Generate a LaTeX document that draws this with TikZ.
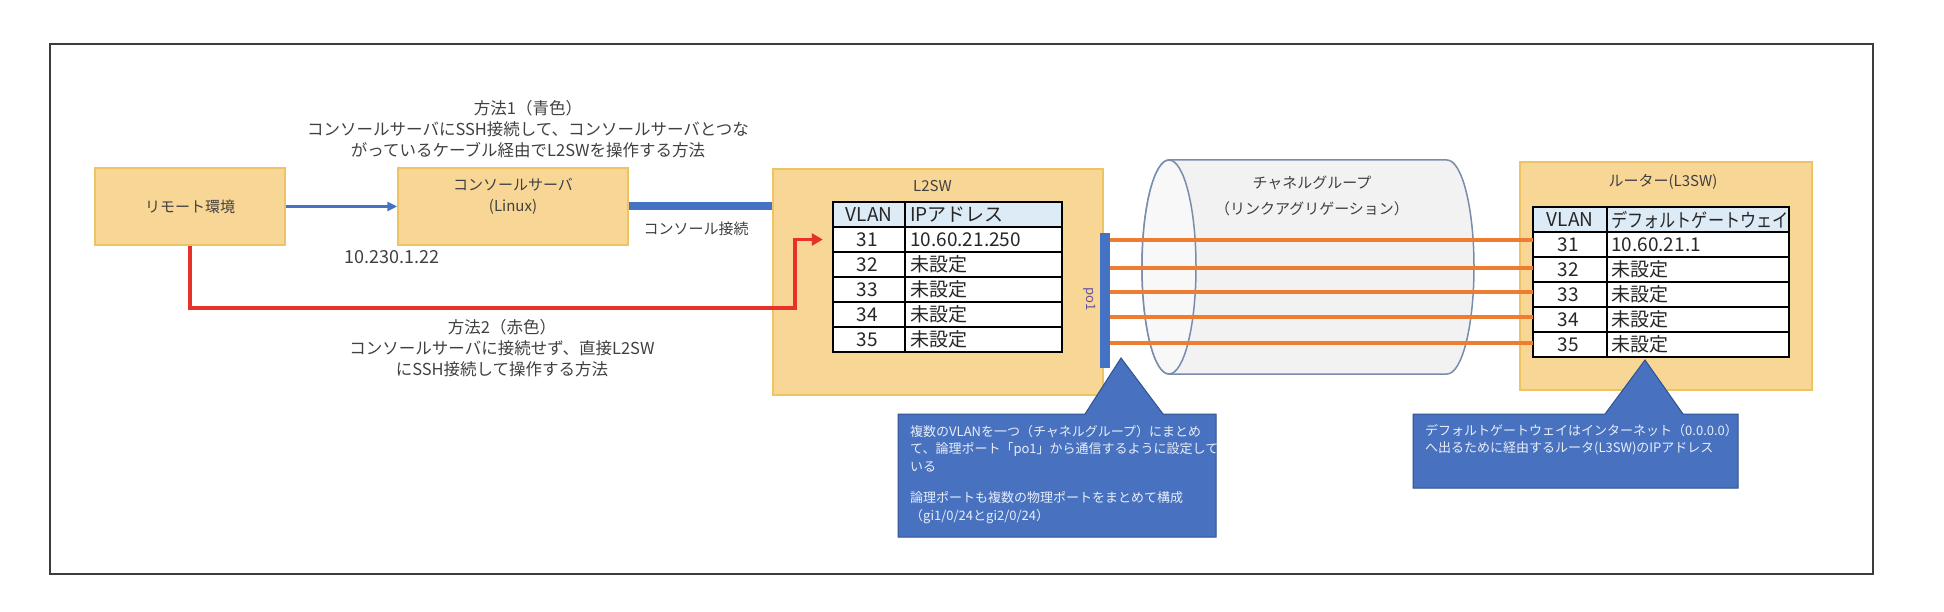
\documentclass[tikz,border=0pt]{standalone}
\usepackage{fontspec}
\setmainfont{Noto Sans CJK JP}
\usetikzlibrary{positioning, arrows.meta}

\definecolor{boxfill}{RGB}{248,215,150}
\definecolor{boxline}{RGB}{238,195,100}
\definecolor{linkblue}{RGB}{68,114,196}
\definecolor{callfill}{RGB}{72,114,192}
\definecolor{callline}{RGB}{47,82,143}
\definecolor{callwhite}{RGB}{232,238,248}
\definecolor{lagorange}{RGB}{237,125,49}
\definecolor{sshred}{RGB}{230,50,40}
\definecolor{cylfill}{RGB}{242,242,242}
\definecolor{cylface}{RGB}{248,248,248}
\definecolor{cylline}{RGB}{120,140,172}
\definecolor{headfill}{RGB}{221,235,247}
\definecolor{notegray}{RGB}{64,64,64}
\definecolor{framegray}{RGB}{60,60,60}
\definecolor{portlbl}{RGB}{100,80,160}

\tikzset{
  devbox/.style={draw=boxline, fill=boxfill, line width=1.5, inner sep=0},
  boxlabel/.style={text=notegray, align=center, inner sep=0, font=\fontsize{15}{21}\selectfont},
  note/.style={text=notegray, align=center, inner sep=0, font=\fontsize{16.5}{21}\selectfont},
  tabtext/.style={text=black!85, inner sep=0, font=\fontsize{19}{19}\selectfont},
  tabline/.style={draw=black, line width=1.6},
  calloutbox/.style={fill=callfill, draw=callline, line width=1},
  calltext/.style={text=callwhite, align=left, inner sep=0, anchor=north west, font=\fontsize{13}{17.5}\selectfont},
  lagline/.style={draw=lagorange, line width=3.5},
  sshpath/.style={draw=sshred, line width=3.5, -{Triangle[length=11, width=12]}},
  consolearrow/.style={draw=linkblue, line width=2.5, -{Triangle[length=10, width=9]}},
  consolelink/.style={draw=linkblue, line width=8}
}

\begin{document}
\begin{tikzpicture}[x=1pt, y=-1pt]
	\useasboundingbox (0,0) rectangle (1944,612);
	\draw[framegray, line width=1.5] (50,44) rectangle (1873,574);

	\node[devbox, minimum width=190, minimum height=77, font=\fontsize{15}{21}\selectfont, text=notegray] (remote) at (190,206.5) {リモート環境};
	\node[devbox, minimum width=230, minimum height=77] (console) at (513,206.5) {};
	\node[boxlabel] (consolelbl) at (513,196) {コンソールサーバ\\(Linux)};
	\node[devbox, minimum width=330, minimum height=226] (l2sw) at (938,282) {};
	\node[boxlabel, anchor=west] (l2swlbl) at (913,186) {L2SW};
	\node[devbox, minimum width=292, minimum height=228] (router) at (1666,276) {};
	\node[boxlabel] (routerlbl) at (1663,182) {ルーター(L3SW)};

	% L2SW table
	\node[inner sep=0, minimum width=229, minimum height=150, fill=white] (l2tab) at (947.5,277) {};
	\fill[headfill] (833,202) rectangle (1062,227);
	\foreach \y in {227,252,...,327}
		\draw[tabline] (833,\y) -- (1062,\y);
	\draw[tabline] (905,202) -- (905,352);
	\draw[tabline] (l2tab.north west) rectangle (l2tab.south east);
	\node[tabtext] (l2vhead) at (869,214.5) {VLAN};
	\node[tabtext, anchor=west] (l2iphead) at (910,214.5) {IPアドレス};
	\foreach \v/\ip [count=\i] in {31/10.60.21.250,32/未設定,33/未設定,34/未設定,35/未設定} {
		\node[tabtext] (l2v\v) at (867,214.5+25*\i) {\v};
		\node[tabtext, anchor=west] (l2ip\v) at (910,214.5+25*\i) {\ip};
	};

	% router table
	\node[inner sep=0, minimum width=256, minimum height=150, fill=white] (r3tab) at (1661,282) {};
	\fill[headfill] (1533,207) rectangle (1789,232);
	\foreach \y in {232,257,...,332}
		\draw[tabline] (1533,\y) -- (1789,\y);
	\draw[tabline] (1607,207) -- (1607,357);
	\draw[tabline] (r3tab.north west) rectangle (r3tab.south east);
	\node[tabtext] (r3vhead) at (1570,219.5) {VLAN};
	\node[tabtext, anchor=west] (r3gwhead) at (1611,219.5) {\scalebox{0.85}[1]{デフォルトゲートウェイ}};
	\foreach \v/\gw [count=\i] in {31/10.60.21.1,32/未設定,33/未設定,34/未設定,35/未設定} {
		\node[tabtext] (r3v\v) at (1568,219.5+25*\i) {\v};
		\node[tabtext, anchor=west] (r3gw\v) at (1611,219.5+25*\i) {\gw};
	};

	% channel group
	\filldraw[fill=cylfill, draw=cylline, line width=1.5] (1169,160) -- (1447,160)
		arc[start angle=-90, end angle=90, x radius=27, y radius=107] -- (1169,374)
		arc[start angle=90, end angle=270, x radius=27, y radius=107];
	\filldraw[fill=cylface, draw=cylline, line width=1.5] (1169,267) ellipse[x radius=27, y radius=107];
	\node[boxlabel] (lagname) at (1312,196) {チャネルグループ\\[5pt]（リンクアグリゲーション）};

	\node[fill=linkblue, inner sep=0, minimum width=10, minimum height=135] (po1) at (1105,300.5) {};
	\node[text=portlbl, rotate=-90, inner sep=0, font=\fontsize{13}{13}\selectfont] (po1lbl) at (1090,299) {po1};
	\foreach \y in {240,268,292,317,343}
		\draw[lagline] (po1.east |- 0,\y) -- (r3tab.west |- 0,\y);

	% connections
	\draw[consolearrow] (remote.east) -- (console.west);
	\draw[consolelink] (console.east) -- (console.east -| l2sw.west);
	\coordinate (redturn) at (795,308);
	\draw[sshpath] (remote.south) |- (redturn) |- ([xshift=-10]l2tab.west |- l2v31);

	\node[note] (method1) at (528,129) {方法1（青色）\\コンソールサーバにSSH接続して、コンソールサーバとつな\\がっているケーブル経由でL2SWを操作する方法};
	\node[note] (method2) at (502,348) {方法2（赤色）\\コンソールサーバに接続せず、直接L2SW\\にSSH接続して操作する方法};
	\node[boxlabel, font=\fontsize{18}{21}\selectfont] (serverip) at (392,257) {10.230.1.22};
	\node[boxlabel] (consolelinklbl) at (696,229) {コンソール接続};

	% callouts
	\filldraw[calloutbox] (898,414) -- (1085,414) -- (1121,358) -- (1163,414) -- (1216,414) -- (1216,537) -- (898,537) -- cycle;
	\node[calltext] (po1note) at (910,425) {複数のVLANを一つ（チャネルグループ）にまとめ\\て、論理ポート「po1」から通信するように設定して\\いる\\[14pt]論理ポートも複数の物理ポートをまとめて構成\\（gi1/0/24とgi2/0/24）};
	\filldraw[calloutbox] (1413,414) -- (1605,414) -- (1645,360) -- (1683,414) -- (1738,414) -- (1738,488) -- (1413,488) -- cycle;
	\node[calltext] (gwnote) at (1425,424) {デフォルトゲートウェイはインターネット（0.0.0.0）\\へ出るために経由するルータ(L3SW)のIPアドレス};
\end{tikzpicture}
\end{document}
